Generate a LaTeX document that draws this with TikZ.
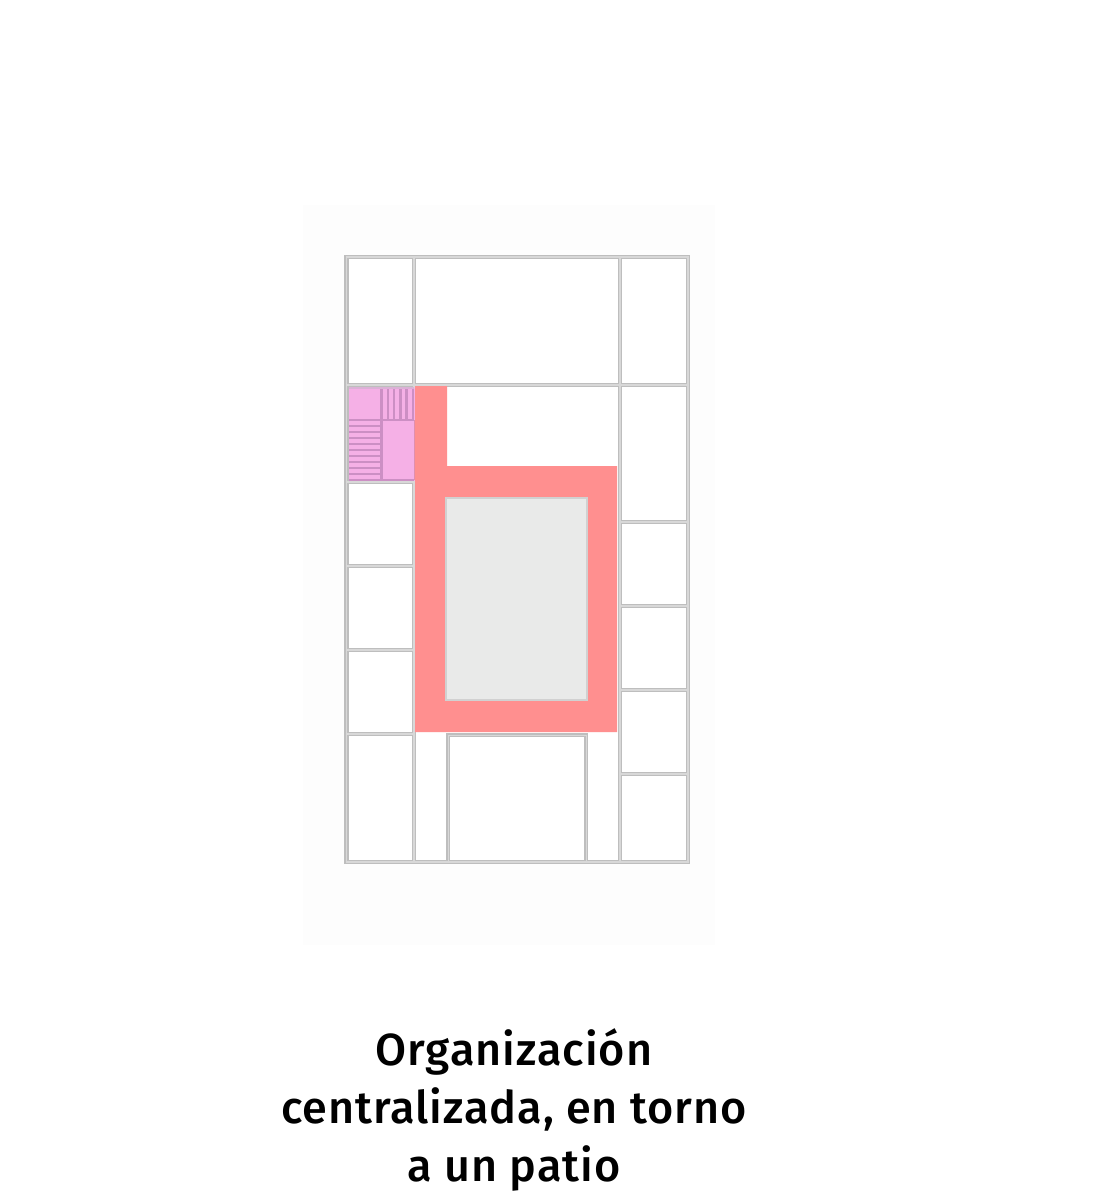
\documentclass[tikz,border=0pt]{standalone}
\usepackage{fontspec}
\setmainfont[LetterSpace=2.2]{Fira Sans Medium}
\definecolor{panel}{HTML}{FDFDFD}
\definecolor{wallc}{HTML}{BEBEBE}
\definecolor{wallm}{HTML}{D8D8D8}
\definecolor{corr}{HTML}{FF8F8F}
\definecolor{patio}{HTML}{E9EAE9}
\definecolor{pinkr}{HTML}{F5B0E6}
\definecolor{stair}{HTML}{CC8FC4}
\tikzset{
  wallout/.style={draw=wallc,line width=4.6pt,line cap=rect},
  wallin/.style={draw=wallm,line width=1.2pt,line cap=rect},
  thinout/.style={draw=wallc,line width=3.6pt},
  thinin/.style={draw=wallm,line width=1pt},
  stairline/.style={draw=stair,line width=2.2pt},
  caption/.style={font=\fontsize{45}{58}\selectfont,align=center,text=black,inner sep=0pt}
}
\newcommand{\wallpath}{
  (346.5,257) rectangle (688,862)
  (346.5,385) -- (688,385)
  (414,257) -- (414,862)
  (620,257) -- (620,862)
  (620,522) -- (688,522) (620,606) -- (688,606)
  (620,690) -- (688,690) (620,774) -- (688,774)
  (346.5,482) -- (414,482) (346.5,566) -- (414,566)
  (346.5,650) -- (414,650) (346.5,734) -- (414,734)
}
\newcommand{\thinpath}{(448,862) -- (448,735) -- (586,735) -- (586,862)}
\begin{document}
\begin{tikzpicture}[x=1pt,y=-1pt]
\useasboundingbox (0,0) rectangle (1096,1193);
\fill[white] (0,0) rectangle (1096,1193);
\fill[panel] (303,205) rectangle (715,945);
\draw[wallout,fill=white] \wallpath;
\draw[thinout] \thinpath;
\draw[wallin] \wallpath;
\draw[thinin] \thinpath;
% corridor
\fill[corr] (415,386) -- (447,386) -- (447,466) -- (617,466) -- (617,732) -- (415,732) -- cycle;
\draw[draw=wallc!70,line width=1.2pt,fill=patio] (446,498) rectangle (587,700);
% stair core
\fill[pinkr] (348.5,387.5) rectangle (414.5,480.5);
\foreach \x in {381.5,388,394,400.5,406.5,413}
  \draw[stairline] (\x,388) -- (\x,420);
\foreach \y in {420,426,432,438,444,450,456,462,468,474,480}
  \draw[stairline] (349,\y) -- (381.5,\y);
\draw[stairline] (381.5,420) -- (414,420);
\draw[stairline] (381.5,420) -- (381.5,480) -- (414,480);
\draw[draw=stair!60!corr,line width=1.4pt] (414.5,420) -- (414.5,480);
\draw[stairline,draw=stair!70] (349,388) -- (414,388);
\node[caption] (cap) at (514,1110) {Organización\\centralizada, en torno\\a un patio};
\end{tikzpicture}
\end{document}
